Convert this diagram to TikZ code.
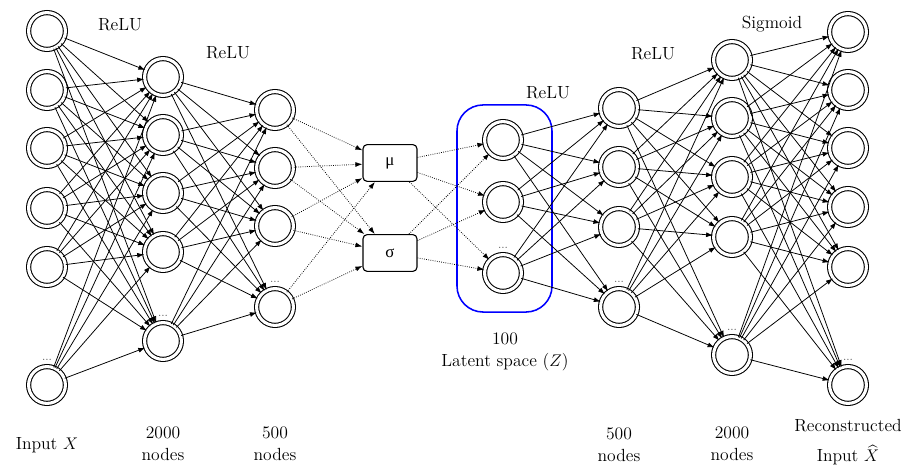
\documentclass[tikz,border=0pt]{standalone}
\usepackage{amsmath}
\usepackage{fontspec}
\newfontfamily\grk{Liberation Serif}
\usetikzlibrary{arrows.meta}

\begin{document}
\begin{tikzpicture}[x=0.025cm,y=-0.025cm,
  neuron/.style={circle,draw,double,line width=0.75pt,double distance=2.2pt,minimum size=0.92cm,inner sep=0pt},
  conn/.style={-{Latex[length=5pt,width=3.5pt]},line width=0.55pt},
  dconn/.style={conn,densely dotted},
  gauss/.style={draw,rounded corners=3pt,line width=0.8pt,minimum width=1.35cm,minimum height=0.92cm,font=\grk\large},
  lbl/.style={font=\fontsize{12.5}{15.5}\selectfont,align=center},
  more/.style={text=gray!70!black,font=\footnotesize,inner sep=1pt,anchor=south}]
\useasboundingbox (0,0) rectangle (907,465);

% encoder layers
\foreach \y [count=\i] in {31,90,148,208,267,385}
  \node[neuron] (in\i) at (47,\y) {};
\foreach \y [count=\i] in {77,135,193,252,341}
  \node[neuron] (h\i) at (163,\y) {};
\foreach \y [count=\i] in {110,168,226,307}
  \node[neuron] (e\i) at (275,\y) {};

% mean and variance
\node[gauss] (mu) at (390,163) {μ};
\node[gauss] (sigma) at (390,253) {σ};

% latent space
\foreach \y [count=\i] in {140,202,273}
  \node[neuron] (z\i) at (503,\y) {};
\node[draw=blue,line width=1.1pt,rounded corners=0.65cm,minimum width=2.375cm,minimum height=5.175cm] (zone) at (504.5,208.5) {};

% decoder layers
\foreach \y [count=\i] in {108,167,227,307}
  \node[neuron] (d\i) at (619,\y) {};
\foreach \y [count=\i] in {60,118,177,237,355}
  \node[neuron] (g\i) at (732,\y) {};
\foreach \y [count=\i] in {32,90,148,207,267,385}
  \node[neuron] (out\i) at (848,\y) {};

% connections
\foreach \i in {1,...,6}
  \foreach \j in {1,...,5}
    \draw[conn] (in\i) -- (h\j);
\foreach \i in {1,...,5}
  \foreach \j in {1,...,4}
    \draw[conn] (h\i) -- (e\j);
\foreach \i in {1,...,4}{
  \draw[dconn] (e\i) -- (mu);
  \draw[dconn] (e\i) -- (sigma);}
\foreach \j in {1,2,3}{
  \draw[dconn] (mu) -- (z\j);
  \draw[dconn] (sigma) -- (z\j);}
\foreach \i in {1,2,3}
  \foreach \j in {1,...,4}
    \draw[conn] (z\i) -- (d\j);
\foreach \i in {1,...,4}
  \foreach \j in {1,...,5}
    \draw[conn] (d\i) -- (g\j);
\foreach \i in {1,...,5}
  \foreach \j in {1,...,6}
    \draw[conn] (g\i) -- (out\j);

% hidden units
\foreach \n in {in6,h5,e4,z3,d4,g5,out6}
  \node[more] (\n dots) at ([yshift=3pt]\n.north) {...};

% activations
\node[lbl] (act1) at (120,25) {ReLU};
\node[lbl] (act2) at (228,53) {ReLU};
\node[lbl] (act3) at (548,93) {ReLU};
\node[lbl] (act4) at (653,54) {ReLU};
\node[lbl] (act5) at (772,24) {Sigmoid};

% layer sizes
\node[lbl] (lin) at (47,445) {Input $X$};
\node[lbl] (l2000) at (163,444) {2000\\nodes};
\node[lbl] (l500) at (275,444) {500\\nodes};
\node[lbl] (lz) at (505,352) {100\\Latent space ($Z$)};
\node[lbl] (r500) at (619,445) {500\\nodes};
\node[lbl] (r2000) at (732,444) {2000\\nodes};
\node[lbl] (lout) at (848,442) {Reconstructed\\[6pt]Input $\widehat{X}$};
\end{tikzpicture}
\end{document}
